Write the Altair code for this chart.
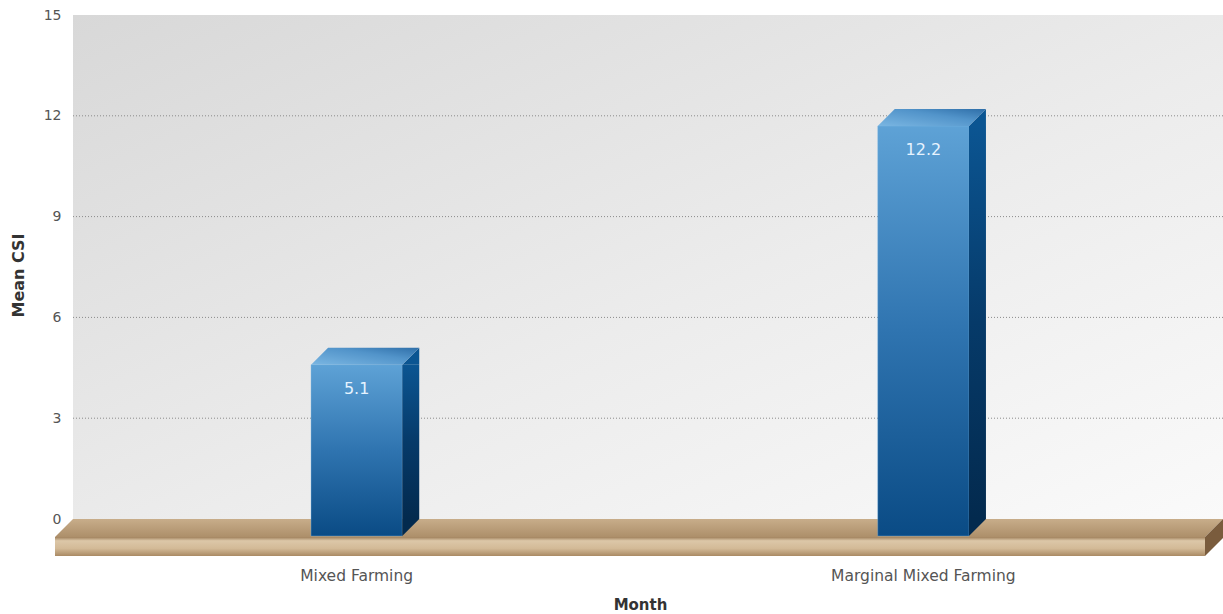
import altair as alt
import pandas as pd

# Mean CSI per livelihood zone
categories = ["Mixed Farming", "Marginal Mixed Farming"]
values = [5.1, 12.2]
y_ticks = [0, 3, 6, 9, 12, 15]
grid_values = [3, 6, 9, 12]

bars = pd.DataFrame({"zone": categories, "csi": values})
grid = pd.DataFrame({"v": grid_values})
one = pd.DataFrame({"k": [0]})

W, H = 1150, 504      # back wall of the plot
DEPTH = 17            # 3-D depth offset in pixels
BAR_W = 91.2
HALF = BAR_W / 2

x_scale = alt.Scale(domain=categories, range=[0, 1134], paddingInner=0.839, paddingOuter=0.42)
y_scale = alt.Scale(domain=[0, 15], nice=False, zero=True)

FONT = "DejaVu Sans"

x_axis = alt.Axis(title="Month", domain=False, ticks=False, grid=False, labelPadding=49, labelLimit=500,
                  labelFont=FONT, labelFontSize=15.5, labelColor="#555555", labelAngle=0,
                  titleFont=FONT, titleFontSize=15, titleFontWeight="bold", titleColor="#333333",
                  titleX=567, titleY=85, titleBaseline="middle", titleAlign="center")
y_axis = alt.Axis(title="Mean CSI", values=y_ticks, domain=False, ticks=False, grid=False,
                  labelPadding=12, labelFont=FONT, labelFontSize=14, labelColor="#555555",
                  titleFont=FONT, titleFontSize=16, titleFontWeight="bold", titleColor="#333333",
                  titleX=-55, titleY=260, titleBaseline="middle", titleAlign="center", titleAngle=-90)


def xz():
    return alt.X("zone:N", scale=x_scale, sort=categories, axis=x_axis)


def yv(field="csi:Q"):
    return alt.Y(field, scale=y_scale, axis=y_axis)


def y0():
    return alt.Y(datum=0, type="quantitative", scale=y_scale, axis=y_axis)


# back wall with soft grey gradient
wall = alt.Chart(one).mark_rect(
    fill=alt.Gradient(gradient="linear", x1=0, y1=0, x2=1, y2=1,
                      stops=[alt.GradientStop(color="#d8d8d8", offset=0),
                             alt.GradientStop(color="#ececec", offset=0.55),
                             alt.GradientStop(color="#fafafa", offset=1)])
).encode(x=alt.value(0), x2=alt.value(W), y=alt.value(0), y2=alt.value(H))

gridlines = alt.Chart(grid).mark_rule(color="#8a8a8a", strokeDash=[1, 2], strokeWidth=1).encode(
    y=yv("v:Q"), x=alt.value(0), x2=alt.value(W),
)

# floor slab: top face, front face, right side
floor_top = alt.Chart(one).mark_point(
    shape=f"M0,0 L{W},0 L{W-18},18 L-18,18 Z", size=4, filled=True, strokeWidth=0, opacity=1,
    fill=alt.Gradient(gradient="linear", x1=0, y1=0, x2=0, y2=1,
                      stops=[alt.GradientStop(color="#c8ad8a", offset=0),
                             alt.GradientStop(color="#ad8f6a", offset=1)])
).encode(x=alt.value(0), y=y0())

floor_front = alt.Chart(one).mark_rect(
    yOffset=18, y2Offset=37,
    fill=alt.Gradient(gradient="linear", x1=0, y1=0, x2=0, y2=1,
                      stops=[alt.GradientStop(color="#a0815c", offset=0),
                             alt.GradientStop(color="#dcc7a8", offset=0.2),
                             alt.GradientStop(color="#d3ba97", offset=0.6),
                             alt.GradientStop(color="#a98a64", offset=1)])
).encode(x=alt.value(-18), x2=alt.value(W - 18), y=y0(), y2=alt.Y2(datum=0))

floor_side = alt.Chart(one).mark_point(
    shape="M-18,18 L0,0 L0,19 L-18,37 Z", size=4, filled=True, strokeWidth=0, opacity=1,
    fill="#7a5c3d"
).encode(x=alt.value(W), y=y0())

# bar front faces
front = alt.Chart(bars).mark_bar(
    yOffset=DEPTH, y2Offset=DEPTH,
    fill=alt.Gradient(gradient="linear", x1=0, y1=0, x2=0, y2=1,
                      stops=[alt.GradientStop(color="#5ea2d6", offset=0),
                             alt.GradientStop(color="#2f74b0", offset=0.5),
                             alt.GradientStop(color="#0a4b85", offset=1)]),
    stroke="#7fb8e6", strokeWidth=0.6, strokeOpacity=0.6,
).encode(x=xz(), y=yv(), y2=alt.Y2(datum=0))

side_fill = alt.Gradient(gradient="linear", x1=0, y1=0, x2=0, y2=1,
                         stops=[alt.GradientStop(color="#0b5592", offset=0),
                                alt.GradientStop(color="#063a69", offset=0.5),
                                alt.GradientStop(color="#032a4e", offset=1)])

side = alt.Chart(bars).mark_bar(size=DEPTH, xOffset=HALF + DEPTH / 2, yOffset=DEPTH, fill=side_fill).encode(
    x=xz(), y=yv(), y2=alt.Y2(datum=0),
)

side_top = alt.Chart(bars).mark_point(
    shape=f"M{HALF},{DEPTH} L{HALF+DEPTH},0 L{HALF+DEPTH},{DEPTH} Z", size=4, filled=True,
    strokeWidth=0, opacity=1, fill="#0b5592"
).encode(x=xz(), y=yv())

side_bottom = alt.Chart(bars).mark_point(
    shape=f"M{HALF},0 L{HALF},{DEPTH} L{HALF+DEPTH},0 Z", size=4, filled=True,
    strokeWidth=0, opacity=1, fill="#032a4e"
).encode(x=xz(), y=y0())

top = alt.Chart(bars).mark_point(
    shape=f"M{-HALF},{DEPTH} L{HALF},{DEPTH} L{HALF+DEPTH},0 L{-HALF+DEPTH},0 Z", size=4, filled=True,
    strokeWidth=0, opacity=1,
    fill=alt.Gradient(gradient="linear", x1=0, y1=1, x2=1, y2=0,
                      stops=[alt.GradientStop(color="#7ab6e2", offset=0),
                             alt.GradientStop(color="#5294ca", offset=0.6),
                             alt.GradientStop(color="#2e6ea8", offset=1)])
).encode(x=xz(), y=yv())

labels = alt.Chart(bars).mark_text(
    dy=DEPTH + 24, baseline="middle", align="center", font="DejaVu Sans", fontSize=16, color="#e6f3ff"
).encode(x=xz(), y=yv(), text=alt.Text("csi:Q", format=".1f"))

chart = alt.layer(
    wall, gridlines, floor_top, floor_front, floor_side,
    front, side, side_top, side_bottom, top, labels
).properties(
    width=W, height=H,
    autosize=alt.AutoSizeParams(type="none"),
    padding={"left": 73, "top": 15, "right": 0, "bottom": 95},
    background="white",
).configure_view(stroke=None)

chart.save("out.html", embed_options={"renderer": "svg", "actions": False})
